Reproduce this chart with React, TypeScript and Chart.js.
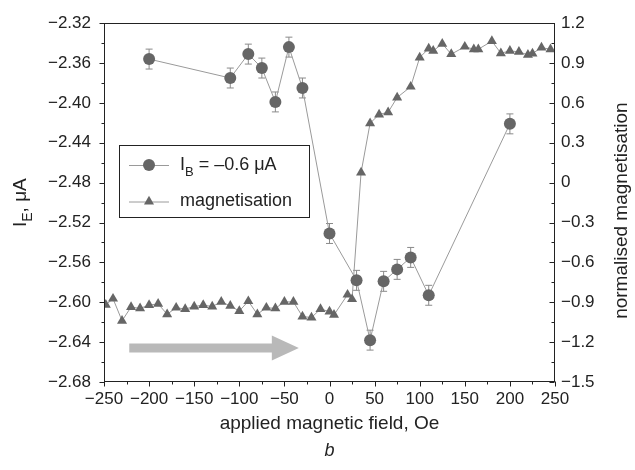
import React, { useEffect, useRef } from 'react';
import { Chart, registerables } from 'chart.js';

Chart.register(...registerables);

// ---- data ----
const fieldIB = [-200, -110, -90, -75, -60, -45, -30, 0, 30, 45, 60, 75, 90, 110, 200];
const currentIB = [-2.356, -2.375, -2.351, -2.365, -2.399, -2.344, -2.385, -2.531, -2.578, -2.638, -2.579, -2.567, -2.555, -2.593, -2.421];
const errorIB = [0.01, 0.01, 0.01, 0.01, 0.01, 0.01, 0.01, 0.01, 0.01, 0.01, 0.01, 0.01, 0.01, 0.01, 0.01];

const fieldMag = [-248, -240, -230, -220, -210, -200, -190, -180, -170, -160, -150, -140, -130, -120, -110, -100, -90, -80, -70, -60, -50, -40, -30, -20, -10, 0, 5, 20, 25, 35, 45, 55, 65, 75, 90, 100, 110, 115, 125, 135, 150, 160, 165, 180, 190, 200, 210, 220, 225, 235, 245];
const magnetisation = [-0.92, -0.873, -1.039, -0.936, -0.946, -0.921, -0.912, -0.99, -0.941, -0.951, -0.932, -0.921, -0.932, -0.897, -0.927, -0.966, -0.892, -0.99, -0.941, -0.946, -0.897, -0.897, -1.007, -1.015, -0.951, -0.97, -0.995, -0.843, -0.877, 0.076, 0.447, 0.513, 0.53, 0.641, 0.722, 0.942, 1.009, 0.992, 1.045, 0.967, 1.023, 1.004, 1.004, 1.065, 0.974, 0.992, 0.984, 0.962, 0.972, 1.016, 1.004];

const arrowField = [-222, -34];
const arrowLevel = -2.646;

const xRange = [-250, 250];
const xStep = 25;
const xLabelStep = 50;
const yRange = [-2.68, -2.32];
const yStep = 0.02;
const yLabelStep = 0.04;
const y1Range = [-1.5, 1.2];
const y1Step = 0.15;
const y1LabelStep = 0.3;

const xTitle = 'applied magnetic field, Oe';
const yTitleParts = ['I', 'E', ', μA'];
const y1Title = 'normalised magnetisation';
const panelLabel = 'b';
const legendIB = ['I', 'B', ' = –0.6 μA'];
const legendMag = 'magnetisation';

const FONT = '"Liberation Sans", Arial, Helvetica, sans-serif';
const TEXT = '#222';
const MARK = '#666';
const LINE = '#9a9a9a';

const isMultiple = (v: number, s: number) => Math.abs(Math.round(v / s) * s - v) < 1e-6;
const fmt = (v: number, d: number) => {
  if (Math.abs(v) < 1e-9) return '0';
  return (v < 0 ? '−' : '') + Math.abs(v).toFixed(d);
};

function drawSubText(ctx: CanvasRenderingContext2D, parts: string[], x: number, y: number, size: number, align: 'left' | 'center') {
  const big = `${size}px ${FONT}`;
  const small = `${Math.round(size * 0.72)}px ${FONT}`;
  ctx.font = big;
  const w0 = ctx.measureText(parts[0]).width;
  const w2 = ctx.measureText(parts[2]).width;
  ctx.font = small;
  const w1 = ctx.measureText(parts[1]).width;
  const total = w0 + w1 + w2;
  let cx = align === 'center' ? x - total / 2 : x;
  ctx.textAlign = 'left';
  ctx.textBaseline = 'alphabetic';
  const base = y + size * 0.36;
  ctx.font = big;
  ctx.fillText(parts[0], cx, base);
  cx += w0;
  ctx.font = small;
  ctx.fillText(parts[1], cx, base + size * 0.3);
  cx += w1;
  ctx.font = big;
  ctx.fillText(parts[2], cx, base);
}

const decor = {
  id: 'decor',
  beforeDatasetsDraw(chart: any) {
    const { ctx, scales } = chart;
    const x = scales.x, y = scales.y;
    ctx.save();
    // arrow
    const xs = x.getPixelForValue(arrowField[0]);
    const xe = x.getPixelForValue(arrowField[1]);
    const ya = y.getPixelForValue(arrowLevel);
    const head = 27, half = 4.5, hh = 12.5;
    ctx.fillStyle = '#b9b9b9';
    ctx.beginPath();
    ctx.moveTo(xs, ya - half);
    ctx.lineTo(xe - head, ya - half);
    ctx.lineTo(xe - head, ya - hh);
    ctx.lineTo(xe, ya);
    ctx.lineTo(xe - head, ya + hh);
    ctx.lineTo(xe - head, ya + half);
    ctx.lineTo(xs, ya + half);
    ctx.closePath();
    ctx.fill();
    // error bars
    ctx.strokeStyle = '#8a8a8a';
    ctx.lineWidth = 1;
    fieldIB.forEach((f, i) => {
      const px = x.getPixelForValue(f);
      const top = y.getPixelForValue(currentIB[i] + errorIB[i]);
      const bot = y.getPixelForValue(currentIB[i] - errorIB[i]);
      ctx.beginPath();
      ctx.moveTo(px, top);
      ctx.lineTo(px, bot);
      ctx.moveTo(px - 3.5, top);
      ctx.lineTo(px + 3.5, top);
      ctx.moveTo(px - 3.5, bot);
      ctx.lineTo(px + 3.5, bot);
      ctx.stroke();
    });
    ctx.restore();
  },
  afterDraw(chart: any) {
    const { ctx, chartArea: a, scales } = chart;
    const x = scales.x, y = scales.y, y1 = scales.y1;
    ctx.save();
    ctx.strokeStyle = TEXT;
    ctx.lineWidth = 1;
    // frame
    const L = Math.round(a.left) + 0.5, R = Math.round(a.right) - 0.5;
    const T = Math.round(a.top) + 0.5, B = Math.round(a.bottom) - 0.5;
    ctx.strokeRect(L, T, R - L, B - T);
    // ticks
    ctx.beginPath();
    x.ticks.forEach((t: any) => {
      const px = Math.round(x.getPixelForValue(t.value)) + 0.5;
      const len = isMultiple(t.value, xLabelStep) ? 5 : 3;
      ctx.moveTo(px, B);
      ctx.lineTo(px, B + len);
    });
    y.ticks.forEach((t: any) => {
      const py = Math.round(y.getPixelForValue(t.value)) + 0.5;
      const len = isMultiple(t.value, yLabelStep) ? 5 : 3;
      ctx.moveTo(L - len, py);
      ctx.lineTo(L, py);
    });
    y1.ticks.forEach((t: any) => {
      const py = Math.round(y1.getPixelForValue(t.value)) + 0.5;
      const len = isMultiple(t.value, y1LabelStep) ? 5 : 3;
      ctx.moveTo(R - len, py);
      ctx.lineTo(R, py);
    });
    ctx.stroke();

    ctx.fillStyle = TEXT;
    // x title and panel label
    ctx.textAlign = 'center';
    ctx.textBaseline = 'middle';
    ctx.font = `19px ${FONT}`;
    const cx = (a.left + a.right) / 2;
    ctx.fillText(xTitle, cx, 424);
    ctx.font = `italic 18px ${FONT}`;
    ctx.fillText(panelLabel, cx, 451);
    const cy = (a.top + a.bottom) / 2;
    // left title
    ctx.save();
    ctx.translate(19, cy);
    ctx.rotate(-Math.PI / 2);
    drawSubText(ctx, yTitleParts, 0, 0, 19, 'center');
    ctx.restore();
    // right title
    ctx.save();
    ctx.translate(622, cy + 8);
    ctx.rotate(-Math.PI / 2);
    ctx.textAlign = 'center';
    ctx.textBaseline = 'middle';
    ctx.font = `19px ${FONT}`;
    ctx.fillText(y1Title, 0, 0);
    ctx.restore();

    // legend
    const bx = 119.5, by = 145.5, bw = 190, bh = 72;
    ctx.fillStyle = '#fff';
    ctx.fillRect(bx, by, bw, bh);
    ctx.strokeStyle = TEXT;
    ctx.strokeRect(bx, by, bw, bh);
    const rows = [165, 201.5];
    ctx.strokeStyle = LINE;
    ctx.beginPath();
    rows.forEach((r) => {
      ctx.moveTo(129, r + 0.5);
      ctx.lineTo(169, r + 0.5);
    });
    ctx.stroke();
    ctx.fillStyle = MARK;
    ctx.beginPath();
    ctx.arc(149, rows[0], 6, 0, Math.PI * 2);
    ctx.fill();
    const tr = 5.8;
    ctx.beginPath();
    ctx.moveTo(149, rows[1] - tr);
    ctx.lineTo(149 + tr * 0.866, rows[1] + tr / 2);
    ctx.lineTo(149 - tr * 0.866, rows[1] + tr / 2);
    ctx.closePath();
    ctx.fill();
    ctx.fillStyle = TEXT;
    drawSubText(ctx, legendIB, 180, rows[0] - 1, 18, 'left');
    ctx.font = `18px ${FONT}`;
    ctx.textAlign = 'left';
    ctx.textBaseline = 'middle';
    ctx.fillText(legendMag, 180, rows[1]);
    ctx.restore();
  },
};

export default function App() {
  const ref = useRef<HTMLCanvasElement | null>(null);
  useEffect(() => {
    if (!ref.current) return;
    const tickFont = { family: FONT, size: 17 };
    const chart = new Chart(ref.current, {
      type: 'line',
      data: {
        datasets: [
          {
            label: 'IB',
            data: fieldIB.map((f, i) => ({ x: f, y: currentIB[i] })),
            yAxisID: 'y',
            borderColor: LINE,
            borderWidth: 1,
            pointRadius: 6,
            pointBackgroundColor: MARK,
            pointBorderColor: MARK,
            pointBorderWidth: 0,
            tension: 0,
          },
          {
            label: 'magnetisation',
            data: fieldMag.map((f, i) => ({ x: f, y: magnetisation[i] })),
            yAxisID: 'y1',
            borderColor: LINE,
            borderWidth: 1,
            pointStyle: 'triangle',
            pointRadius: 5.8,
            pointBackgroundColor: MARK,
            pointBorderColor: MARK,
            pointBorderWidth: 0,
            tension: 0,
          },
        ],
      },
      options: {
        animation: false,
        responsive: false,
        layout: { padding: { top: 15, left: 0, right: 0, bottom: 0 } },
        plugins: { legend: { display: false }, tooltip: { enabled: false } },
        scales: {
          x: {
            type: 'linear',
            position: 'bottom',
            min: xRange[0],
            max: xRange[1],
            grid: { display: true, drawOnChartArea: false, drawTicks: false },
            border: { display: false },
            ticks: {
              stepSize: xStep,
              autoSkip: false,
              maxRotation: 0,
              padding: 7,
              color: TEXT,
              font: tickFont,
              callback: (v: any) => (isMultiple(Number(v), xLabelStep) ? fmt(Number(v), 0) : ''),
            },
            afterFit: (s: any) => { s.height = 88; },
          },
          y: {
            type: 'linear',
            position: 'left',
            min: yRange[0],
            max: yRange[1],
            grid: { display: true, drawOnChartArea: false, drawTicks: false },
            border: { display: false },
            ticks: {
              stepSize: yStep,
              autoSkip: false,
              padding: 13,
              color: TEXT,
              font: tickFont,
              callback: (v: any) => (isMultiple(Number(v), yLabelStep) ? fmt(Number(v), 2) : ''),
            },
            afterFit: (s: any) => { s.width = 104; },
          },
          y1: {
            type: 'linear',
            position: 'right',
            min: y1Range[0],
            max: y1Range[1],
            grid: { display: true, drawOnChartArea: false, drawTicks: false },
            border: { display: false },
            ticks: {
              stepSize: y1Step,
              autoSkip: false,
              padding: 6,
              color: TEXT,
              font: tickFont,
              callback: (v: any) => (isMultiple(Number(v), y1LabelStep) ? fmt(Number(v), 1) : ''),
            },
            afterFit: (s: any) => { s.width = 80; },
          },
        },
      },
      plugins: [decor],
    } as any);
    return () => chart.destroy();
  }, []);
  return (
    <div style={{ position: 'absolute', left: 0, top: 0, width: 635, height: 470, background: '#fff' }}>
      <canvas ref={ref} width={635} height={470} style={{ display: 'block' }} />
    </div>
  );
}
